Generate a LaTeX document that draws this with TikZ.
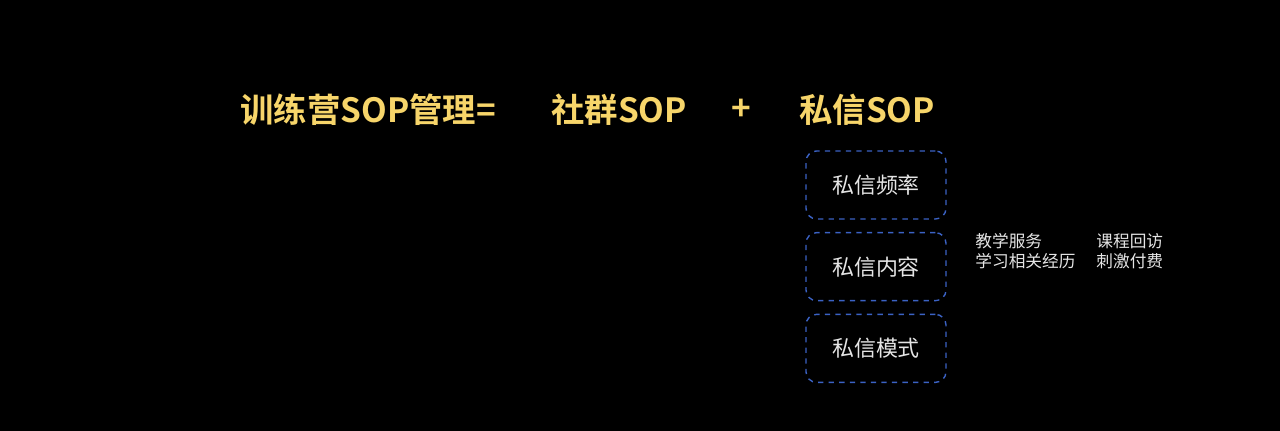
\documentclass[tikz,border=0pt]{standalone}
\usepackage{fontspec}
\newfontfamily\cjk{Noto Sans CJK SC}
\newfontfamily\cjkbold{Noto Sans CJK SC Bold}
\usetikzlibrary{positioning}
\definecolor{titleyellow}{HTML}{F7D56A}
\definecolor{boxblue}{HTML}{3B62C4}
\begin{document}
\begin{tikzpicture}
[x=0.02cm, y=-0.02cm,
 title/.style={text=titleyellow, font=\cjkbold\fontsize{19pt}{21pt}\selectfont, inner sep=0pt},
 pbox/.style={draw=boxblue, dashed, line width=0.8pt, rounded corners=6pt,
   minimum width=2.8cm, minimum height=1.36cm, text=white!90!black,
   font=\cjk\fontsize{12.5pt}{14pt}\selectfont},
 note/.style={text=white!90!black, font=\cjk\fontsize{9.5pt}{11.5pt}\selectfont,
   align=left, anchor=north west, inner sep=0pt}]
\fill[black] (0,0) rectangle (1280,431);
\node[title, anchor=west] (whole) at (240,110) {训练营SOP管理=};
\node[title, anchor=west] (group) at (551,110) {社群SOP};
\node[title] (plus) at (741,110) {+};
\node[title, anchor=west] (priv) at (799,110) {私信SOP};
\node[pbox] (freq) at (876,185) {私信频率};
\node[pbox, below=7pt of freq] (content) {私信内容};
\node[pbox, below=7pt of content] (mode) {私信模式};
\node[note] (serve) at (975,233) {教学服务\\学习相关经历};
\node[note] (visit) at (1096,233) {课程回访\\刺激付费};
\end{tikzpicture}
\end{document}
